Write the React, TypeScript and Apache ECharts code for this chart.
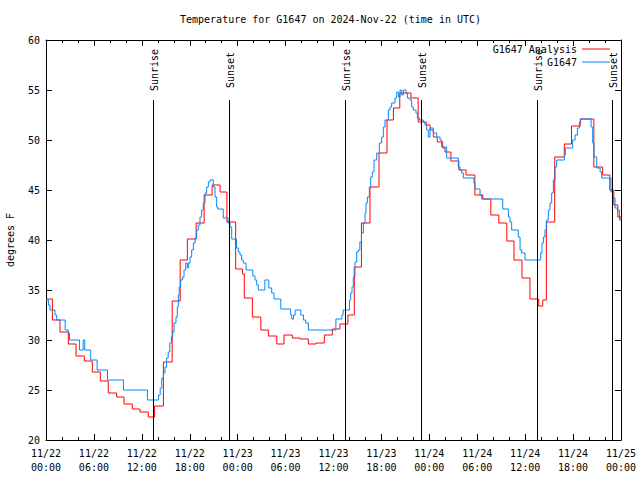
import React, { useEffect, useRef } from 'react';
import * as echarts from 'echarts';

const FONT = "'DejaVu Sans Mono', 'Liberation Mono', monospace";

const titleText = 'Temperature for G1647 on 2024-Nov-22 (time in UTC)';
const yAxisName = 'degrees F';

const tickDates = ['11/22', '11/22', '11/22', '11/22', '11/23', '11/23', '11/23', '11/23', '11/24', '11/24', '11/24', '11/24', '11/25'];
const tickTimes = ['00:00', '06:00', '12:00', '18:00', '00:00', '06:00', '12:00', '18:00', '00:00', '06:00', '12:00', '18:00', '00:00'];

// hours since 11/22 00:00 UTC at which each value starts to hold
const analysisHours = [
  0, 0.8, 1.75, 2.8, 3.76, 4.8, 5.8, 6.8, 7.8, 8.85, 9.77, 10.8, 11.77, 12.8, 13.6, 14.7, 15.8, 16.8, 17.7, 18.8,
  19.8, 20.8, 21.8, 22.65, 23.75, 24.6, 24.83, 25.84, 26.9, 27.84, 28.9, 29.8, 30.84, 31.8, 32.85, 33.8, 34.85, 35.85, 36.8, 37.8,
  38.6, 39.5, 40.57, 41.7, 42.7, 43.5, 44.3, 45.7, 46.6, 47.6, 48.1, 48.5, 49.0, 49.67, 49.96, 50.7, 51.7, 52.6, 53.7, 54.7,
  55.7, 56.7, 57.7, 58.6, 59.6, 60.6, 61.7, 62.2, 62.65, 63.7, 64.9, 65.8, 66.9, 68.6, 69.7, 70.6, 71.1, 71.6, 72,
];
const analysisTemps = [
  34.1, 32.0, 30.8, 29.6, 28.4, 27.9, 26.8, 25.9, 24.7, 24.3, 23.6, 23.1, 22.8, 22.3, 23.4, 27.8, 33.9, 38.0, 40.1, 41.7,
  44.5, 45.5, 44.8, 41.8, 37.1, 36.6, 34.2, 32.3, 31.0, 30.4, 29.6, 30.5, 30.2, 30.1, 29.6, 29.7, 30.5, 31.1, 31.6, 32.5,
  37.3, 41.7, 45.3, 48.7, 52.0, 53.2, 54.7, 54.2, 51.8, 51.5, 51.0, 50.3, 49.8, 49.2, 48.8, 47.9, 47.0, 46.5, 44.5, 44.1,
  42.5, 41.7, 39.9, 38.0, 36.2, 34.1, 33.4, 34.0, 41.8, 48.3, 49.6, 51.4, 52.1, 47.3, 46.5, 45.0, 43.5, 42.3, 42.0,
];

const obsHours = [
  0, 0.3, 0.5, 1.13, 1.34, 2.4, 2.8, 2.95, 4.2, 4.65, 4.85, 5.6, 6.4, 7.7, 9.7, 12.7, 14.1, 14.3, 14.5, 14.7,
  14.9, 15.1, 15.3, 15.5, 15.7, 15.86, 16.03, 16.28, 16.44, 16.57, 16.69, 16.86, 17.11, 17.28, 17.49, 17.7, 17.82, 18.03, 18.24, 18.45,
  18.66, 18.87, 19.07, 19.28, 19.49, 19.7, 19.91, 20.12, 20.33, 20.53, 20.95, 21.16, 21.37, 21.5, 22.2, 22.8, 23.04, 23.25, 23.85, 24.08,
  24.29, 24.5, 24.71, 25.05, 25.9, 26.17, 26.38, 26.59, 27.4, 27.9, 28.26, 28.55, 29.4, 30.64, 30.77, 31.0, 31.2, 31.9, 32.23, 32.5,
  32.85, 36.3, 37.05, 37.2, 38.0, 38.15, 38.32, 38.48, 38.69, 38.9, 39.11, 39.3, 39.5, 39.74, 39.95, 40.07, 40.24, 40.49, 40.66, 40.86,
  41.07, 41.41, 41.74, 42.03, 42.24, 42.45, 42.87, 43.08, 43.28, 43.7, 43.91, 44.12, 44.33, 44.54, 44.74, 45.08, 45.25, 45.58, 45.79, 46.0,
  46.33, 46.5, 46.75, 47.25, 47.46, 47.67, 47.87, 48.08, 48.5, 48.92, 49.34, 49.55, 50.17, 51.63, 51.84, 52.05, 52.26, 53.59, 53.72, 54.35,
  54.55, 57.19, 57.9, 58.1, 58.31, 59.14, 59.36, 59.56, 59.98, 61.94, 62.11, 62.28, 62.48, 62.69, 62.9, 63.11, 63.32, 63.53, 63.74, 63.95,
  64.91, 65.03, 65.95, 66.25, 66.54, 66.79, 66.95, 68.25, 68.46, 68.62, 68.96, 69.38, 69.58, 70.75, 70.96, 71.25, 71.55, 71.8, 72,
];
const obsTemps = [
  34, 33.5, 33, 32.5, 32, 31, 30.7, 30, 29, 30, 29, 28, 27, 26, 25, 24, 24.5, 25.2, 26.2, 26.7,
  27.3, 28.2, 28.8, 29.7, 30.3, 30.8, 31.7, 32.3, 33.3, 34.5, 35.3, 36, 36.3, 37, 37.7, 37.2, 37.7, 38.3, 39, 39.7,
  40.2, 41, 41.5, 42.3, 43, 43.7, 44.7, 45.3, 45.8, 46, 45.3, 44.3, 43.3, 43.1, 42.2, 41.7, 41.3, 40.1, 39.2, 38.8,
  38.5, 38, 37.7, 37, 36.4, 36, 35.5, 35, 36, 35.2, 34.7, 34.1, 33.1, 32.5, 32.1, 32.5, 33, 32.5, 32, 31.7,
  31, 32.1, 32.5, 33, 34, 34.7, 35.3, 36.3, 37.8, 38.8, 39, 39.8, 40.7, 41.7, 42.7, 43.7, 44.3, 45.3, 46.3, 46.8,
  48, 48.7, 49.7, 50.3, 51.3, 52, 53, 53.3, 53.7, 54.2, 54.8, 54.3, 55, 54.5, 55, 54.7, 54.2, 54, 53.3, 53,
  52.7, 52.2, 52, 51.8, 51.5, 51, 50.3, 51.2, 50.7, 50.3, 50, 49.3, 48.2, 47.3, 47, 46.7, 46.2, 45.7, 45.1, 44.5,
  44.1, 43.1, 42.3, 41.8, 41, 40.3, 39, 38.7, 38, 38.7, 39.7, 40.3, 41, 42, 43, 43.7, 44.7, 46, 47.3, 48,
  48.5, 49.2, 50, 50.5, 51.2, 51.8, 52.1, 51.3, 49.7, 48.3, 47.2, 46.8, 46.2, 44.8, 44.2, 43.2, 43, 42, 42,
];

const sunHours = [13.44, 22.95, 37.46, 46.98, 61.5, 70.9];
const sunNames = ['Sunrise', 'Sunset', 'Sunrise', 'Sunset', 'Sunrise', 'Sunset'];

const Y_MIN = 20;
const Y_MAX = 60;
const SUN_LINE_TOP = 54;
const SUN_LABEL_CENTER = 57;

export default function App() {
  const ref = useRef<HTMLDivElement>(null);

  useEffect(() => {
    if (!ref.current) return;
    const chart = echarts.init(ref.current, null, { renderer: 'svg' });

    const analysisData = analysisHours.map((h, i) => [h, analysisTemps[i]]);
    const obsData = obsHours.map((h, i) => [h, obsTemps[i]]);
    const sunData = sunHours.map((h) => [h, Y_MIN]);

    const axisCommon = {
      axisLine: { show: true, onZero: false, lineStyle: { color: '#000', width: 1 } },
      splitLine: { show: false },
    };

    chart.setOption({
      animation: false,
      backgroundColor: '#fff',
      title: {
        text: titleText,
        left: 180,
        top: 14,
        padding: 0,
        textStyle: { fontFamily: FONT, fontSize: 10, fontWeight: 'normal', color: '#000' },
      },
      legend: {
        data: [
          { name: 'G1647 Analysis', icon: 'rect' },
          { name: 'G1647', icon: 'rect' },
        ],
        orient: 'vertical',
        align: 'right',
        right: 30,
        top: 44,
        padding: 0,
        itemWidth: 28,
        itemHeight: 1,
        itemGap: 3,
        textStyle: { fontFamily: FONT, fontSize: 10, color: '#000', lineHeight: 10 },
      },
      grid: { left: 46, right: 19, top: 40, bottom: 40, containLabel: false, outerBoundsMode: 'none' },
      xAxis: [
        {
          type: 'value',
          position: 'bottom',
          min: 0,
          max: 72,
          interval: 6,
          ...axisCommon,
          axisTick: { show: true, inside: true, length: 6, lineStyle: { color: '#000' } },
          minorTick: { show: true, splitNumber: 3, length: 3, lineStyle: { color: '#000' } },
          axisLabel: {
            fontFamily: FONT,
            fontSize: 10,
            color: '#000',
            lineHeight: 14,
            margin: 6,
            formatter: (v: number) => {
              const i = Math.round(v / 6);
              return `${tickDates[i]}\n${tickTimes[i]}`;
            },
          },
        },
        {
          type: 'value',
          position: 'top',
          min: 0,
          max: 72,
          interval: 6,
          ...axisCommon,
          axisTick: { show: true, inside: true, length: 6, lineStyle: { color: '#000' } },
          minorTick: { show: true, splitNumber: 3, length: 3, lineStyle: { color: '#000' } },
          axisLabel: { show: false },
        },
      ],
      yAxis: [
        {
          type: 'value',
          position: 'left',
          min: Y_MIN,
          max: Y_MAX,
          interval: 5,
          ...axisCommon,
          name: yAxisName,
          nameLocation: 'middle',
          nameRotate: 90,
          nameGap: 31,
          nameTextStyle: { fontFamily: FONT, fontSize: 10, color: '#000' },
          axisTick: { show: true, inside: true, length: 6, lineStyle: { color: '#000' } },
          axisLabel: { fontFamily: FONT, fontSize: 10, color: '#000', margin: 6 },
        },
        {
          type: 'value',
          position: 'right',
          min: Y_MIN,
          max: Y_MAX,
          interval: 5,
          ...axisCommon,
          axisTick: { show: true, inside: true, length: 6, lineStyle: { color: '#000' } },
          axisLabel: { show: false },
        },
      ],
      series: [
        {
          name: 'G1647 Analysis',
          type: 'line',
          step: 'end',
          data: analysisData,
          symbol: 'none',
          color: '#ff0000',
          itemStyle: { color: '#ff0000' },
          lineStyle: { color: '#ff0000', width: 1 },
          z: 2,
        },
        {
          name: 'G1647',
          type: 'line',
          step: 'end',
          data: obsData,
          symbol: 'none',
          color: '#0088ff',
          itemStyle: { color: '#0088ff' },
          lineStyle: { color: '#0088ff', width: 1 },
          z: 3,
        },
        {
          name: 'sun',
          type: 'custom',
          data: sunData,
          encode: { x: 0, y: 1 },
          clip: false,
          z: 4,
          silent: true,
          renderItem: (params: any, api: any) => {
            const t = api.value(0);
            const bottom = api.coord([t, Y_MIN]);
            const top = api.coord([t, SUN_LINE_TOP]);
            const lab = api.coord([t, SUN_LABEL_CENTER]);
            const x = Math.round(bottom[0]) + 0.5;
            return {
              type: 'group',
              children: [
                {
                  type: 'line',
                  shape: { x1: x, y1: bottom[1], x2: x, y2: top[1] },
                  style: { stroke: '#000', lineWidth: 1 },
                },
                {
                  type: 'text',
                  x: x + 1,
                  y: lab[1],
                  rotation: Math.PI / 2,
                  style: {
                    text: sunNames[params.dataIndex],
                    fill: '#000',
                    font: `10px ${FONT}`,
                    align: 'center',
                    verticalAlign: 'middle',
                  },
                },
              ],
            };
          },
        },
      ],
    });

    return () => chart.dispose();
  }, []);

  return <div ref={ref} style={{ width: 640, height: 480, position: 'absolute', left: 0, top: 0 }} />;
}
